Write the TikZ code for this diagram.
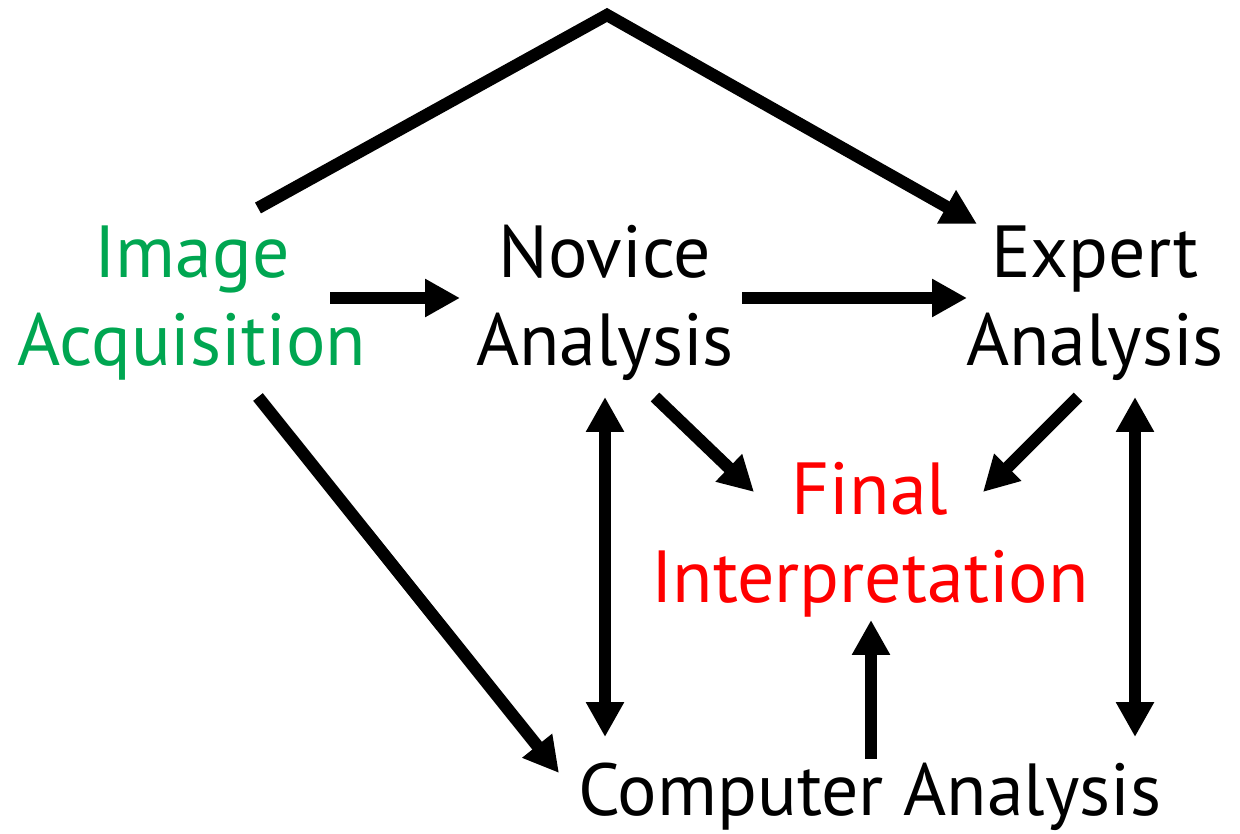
\documentclass[tikz,border=0pt]{standalone}
\usepackage{fontspec}
\setmainfont{PT Sans}
\usepackage{xcolor}
\usetikzlibrary{arrows.meta}
\usetikzlibrary{positioning}
\usetikzlibrary{calc}
\definecolor{acqgreen}{RGB}{0,166,81}
\tikzstyle{stage}=[align=center,inner sep=0pt,font=\fontsize{42}{50}\selectfont]
\tikzstyle{edge} = [draw,line width=7pt,-{Triangle[length=0.7cm,width=0.72cm]}]
\tikzstyle{twoway} = [draw,line width=7pt,{Triangle[length=0.7cm,width=0.72cm]}-{Triangle[length=0.7cm,width=0.72cm]}]

\begin{document}
\begin{tikzpicture}[x=0.02cm,y=-0.02cm]

  \useasboundingbox (0,0) rectangle (1240,834);

  \node[stage,text=acqgreen] (acq) at (192,303) {Image\\Acquisition};
  \foreach \x/\y/\name/\label in {605/303/novice/{Novice\\Analysis}, 1095/303/expert/{Expert\\Analysis}, 870/797/computer/{Computer Analysis}}
          \node[stage] (\name) at (\x,\y) {\label};
  \node[stage,text=red] (final) at (870,540) {Final\\Interpretation};

  \coordinate (apex) at (607,15);

  % over the top
  \path[edge] ($(acq)+(66,-95)$) -- (apex) -- ($(expert)+(-118,-79)$);

  \foreach \source/\sx/\sy/\dest/\dx/\dy in {acq/138/-5/novice/-145/-5, novice/137/-5/expert/-128/-5,
                             acq/66/94/computer/-311/-24, novice/50/94/final/-116/-48,
                             expert/-17/94/final/113/-48, computer/1/-38/final/1/80}
         \path[edge] ($(\source)+(\sx,\sy)$) -- ($(\dest)+(\dx,\dy)$);

  % both ways
  \path[twoway] ($(novice)+(0,94)$) -- ($(computer)+(-265,-60)$);
  \path[twoway] ($(expert)+(40,94)$) -- ($(computer)+(265,-60)$);

\end{tikzpicture}
\end{document}
